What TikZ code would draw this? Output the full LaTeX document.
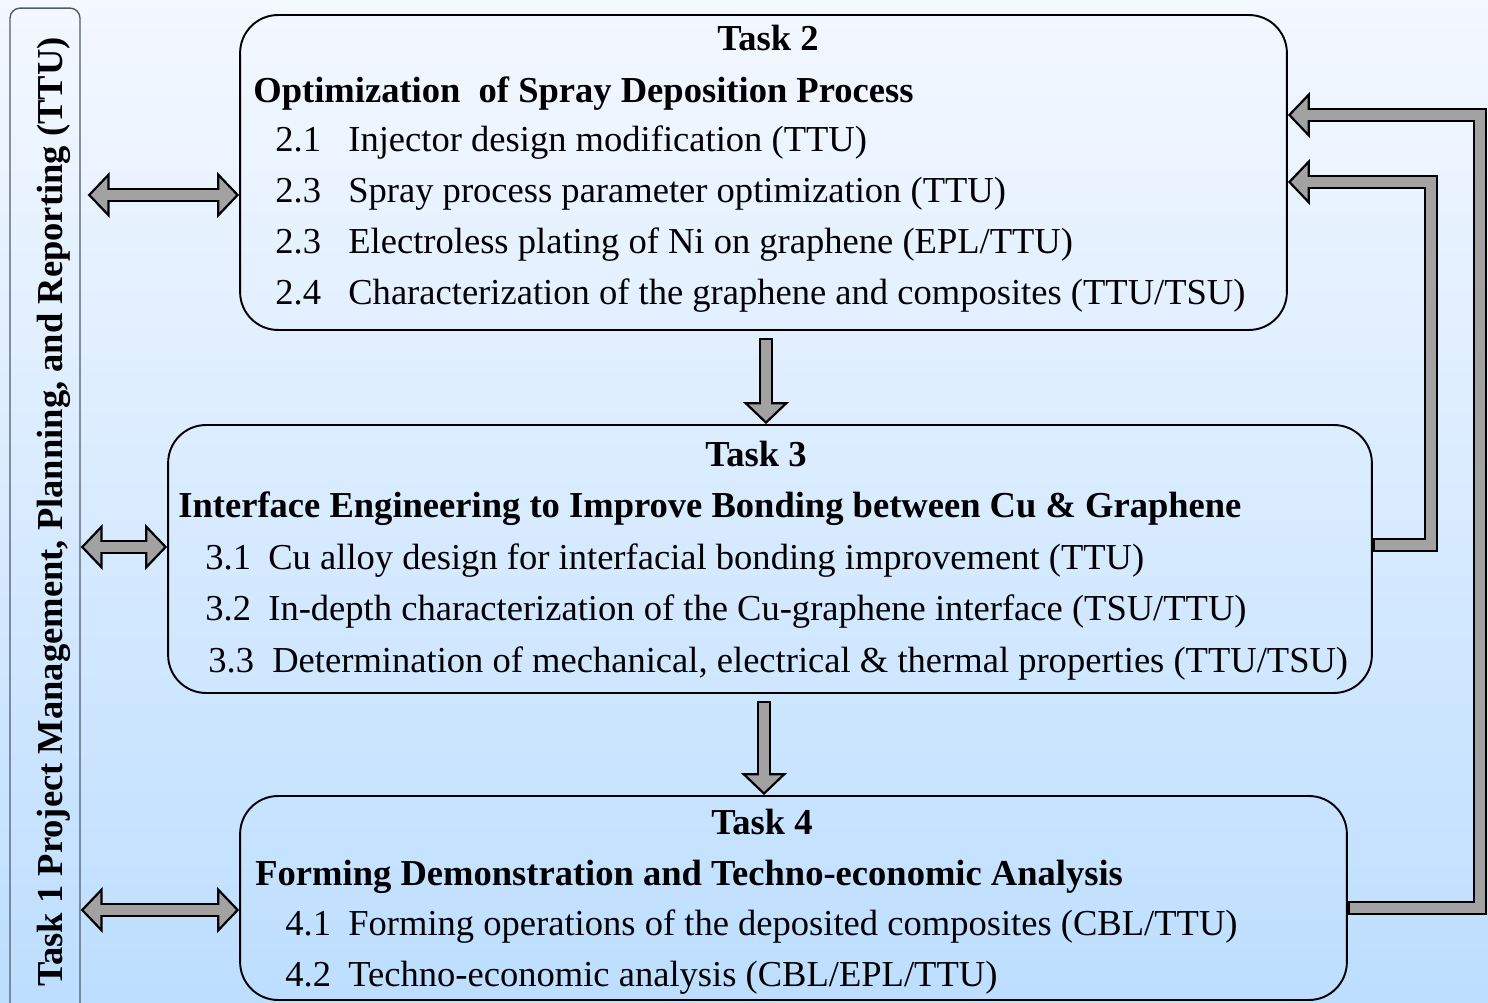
\documentclass[tikz,border=0pt]{standalone}
\usepackage{fontspec}
\setmainfont{Liberation Serif}
\usetikzlibrary{arrows.meta,calc,positioning}
\definecolor{bgtop}{RGB}{244,248,255}
\definecolor{bgbottom}{RGB}{189,222,255}
\definecolor{arrowgray}{RGB}{162,162,162}
\definecolor{sidegray}{RGB}{80,92,105}
\tikzset{
  task box/.style={draw=black,line width=1.1pt,rounded corners=0.76cm,inner sep=0pt},
  side box/.style={draw=sidegray,line width=0.8pt,rounded corners=0.2cm,inner sep=0pt},
  task title/.style={font=\fontsize{20.8}{24}\selectfont\bfseries,inner sep=0pt,anchor=base},
  task head/.style={font=\fontsize{20.8}{24}\selectfont\bfseries,inner sep=0pt,anchor=base west},
  task item/.style={font=\fontsize{20.8}{24}\selectfont,inner sep=0pt,anchor=base west},
  block tip/.tip={Triangle[length=12.5pt,width=26pt,line width=1.25pt,fill=arrowgray]},
  block edge/.style={line width=7.9pt,line join=miter,-block tip},
  block both/.style={line width=7.9pt,block tip-block tip},
  block fill/.style={line width=5.4pt,line join=miter,arrowgray,shorten <=1.25pt,shorten >=8pt},
  block both fill/.style={line width=5.4pt,arrowgray,shorten <=8pt,shorten >=8pt},
}

\begin{document}
\begin{tikzpicture}[x=0.02cm,y=-0.02cm]
  \clip (0,0) rectangle (1488,1003);
  \shade[top color=bgtop,bottom color=bgbottom] (0,0) rectangle (1488,1003);

  % boxes
  \node[side box,minimum width=1.4cm,minimum height=20.14cm] (t1) at (45,511.5) {};
  \node[task box,minimum width=20.94cm,minimum height=6.3cm] (t2) at (763.5,172.5) {};
  \node[task box,minimum width=24.08cm,minimum height=5.36cm] (t3) at (770,559) {};
  \node[task box,minimum width=22.14cm,minimum height=4.08cm] (t4) at (793.5,898) {};

  % task 1
  \node[task title,rotate=90] (t1text) at (62,512) {Task 1 Project Management, Planning, and Reporting (TTU)};

  % task 2
  \node[task title] (t2title) at (768,51) {Task 2};
  \node[task head] (t2head) at (253,103) {Optimization\ \ of Spray Deposition Process};
  \node[task item] (t2n1) at (275,152) {2.1};
  \node[task item] (t2i1) at (348,152) {Injector design modification (TTU)};
  \node[task item] (t2n2) at (275,203) {2.3};
  \node[task item] (t2i2) at (348,203) {Spray process parameter optimization (TTU)};
  \node[task item] (t2n3) at (275,254) {2.3};
  \node[task item] (t2i3) at (348,254) {Electroless plating of Ni on graphene (EPL/TTU)};
  \node[task item] (t2n4) at (275,305) {2.4};
  \node[task item] (t2i4) at (348,305) {Characterization of the graphene and composites (TTU/TSU)};

  % task 3
  \node[task title] (t3title) at (756,467) {Task 3};
  \node[task head] (t3head) at (178,518) {Interface Engineering to Improve Bonding between Cu \& Graphene};
  \node[task item] (t3n1) at (205,569) {3.1};
  \node[task item] (t3i1) at (268,569) {Cu alloy design for interfacial bonding improvement (TTU)};
  \node[task item] (t3n2) at (205,620) {3.2};
  \node[task item] (t3i2) at (268,620) {In-depth characterization of the Cu-graphene interface (TSU/TTU)};
  \node[task item] (t3n3) at (208,672) {3.3};
  \node[task item] (t3i3) at (272,672) {Determination of mechanical, electrical \& thermal properties (TTU/TSU)};

  % task 4
  \node[task title] (t4title) at (762,834) {Task 4};
  \node[task head] (t4head) at (255,885) {Forming Demonstration and Techno-economic Analysis};
  \node[task item] (t4n1) at (285,935) {4.1};
  \node[task item] (t4i1) at (348,935) {Forming operations of the deposited composites (CBL/TTU)};
  \node[task item] (t4n2) at (285,986) {4.2};
  \node[task item] (t4i2) at (348,986) {Techno-economic analysis (CBL/EPL/TTU)};

  % task 1 links
  \draw[block both,shorten <=4pt] (t1.east |- 0,195) -- (t2.west |- 0,195);
  \draw[block both fill,shorten <=12pt] (t1.east |- 0,195) -- (t2.west |- 0,195);
  \draw[block both] (t1.east |- 0,547) -- (t3.west |- 0,547);
  \draw[block both fill] (t1.east |- 0,547) -- (t3.west |- 0,547);
  \draw[block both] (t1.east |- 0,910) -- (t4.west |- 0,910);
  \draw[block both fill] (t1.east |- 0,910) -- (t4.west |- 0,910);

  % downward flow
  \draw[block edge,shorten <=4pt] (t2.south -| 766,0) -- (t3.north -| 766,0);
  \draw[block fill,shorten <=5.25pt] (t2.south -| 766,0) -- (t3.north -| 766,0);
  \draw[block edge,shorten <=4pt] (t3.south -| 764,0) -- (t4.north -| 764,0);
  \draw[block fill,shorten <=5.25pt] (t3.south -| 764,0) -- (t4.north -| 764,0);

  % feedback
  \draw[block edge] (t4.east |- 0,908) -| (1480,115) -- (t2.east |- 0,115);
  \draw[block fill] (t4.east |- 0,908) -| (1480,115) -- (t2.east |- 0,115);
  \draw[block edge] (t3.east |- 0,545) -| (1431,182) -- (t2.east |- 0,182);
  \draw[block fill] (t3.east |- 0,545) -| (1431,182) -- (t2.east |- 0,182);
\end{tikzpicture}
\end{document}
